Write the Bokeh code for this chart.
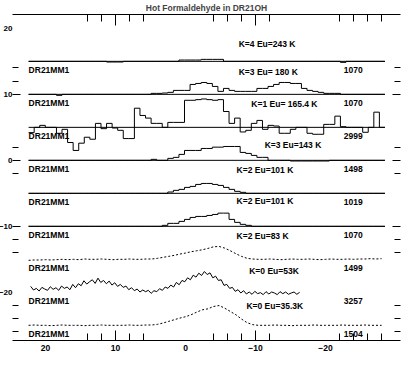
import numpy as np
from bokeh.plotting import figure
from bokeh.models import Range1d, FixedTicker, LinearAxis
from bokeh.embed import file_html
from bokeh.resources import INLINE
from bokeh.core.properties import value

# ---------------- data ----------------
TITLE = "Hot Formaldehyde in DR21OH"
SOURCE = "DR21MM1"
transitions = ["K=4 Eu=243 K", "K=3 Eu= 180 K", "K=1 Eu= 165.4 K", "K=3 Eu=143 K",
               "K=2 Eu=101 K", "K=2 Eu=101 K", "K=2 Eu=83 K", "K=0 Eu=53K", "K=0 Eu=35.3K"]
scan_numbers = ["1070", "1070", "2999", "1498", "1019", "1070", "1499", "3257", "1504"]
baselines = [15, 10, 5, 0, -5, -10, -15, -20, -25]

# narrow-band (histogram) spectra: 64 channels starting at v=22.4 km/s, width -0.795 km/s
narrow_v0 = 22.4
narrow_dv = -0.795
k4_243 = [0, 0, 0, 0, 0, 0, 0, 0,
          0, 0, 0, 0, 0, 0, -0.1, -0.1,
          -0.1, 0, 0, 0, 0, 0, 0, 0,
          0, 0, 0, 0.2, 0.2, 0.2, 0.2, 0.3,
          0.3, 0.3, 0.3, 0, 0, 0, 0, 0,
          0, 0, 0, 0, 0, 0, 0, 0,
          0, 0, 0, 0, 0, 0, 0, 0,
          -0.15, 0, 0, 0, 0, 0, 0, 0]
k3_180 = [0, 0, 0, 0, 0, -0.15, 0, 0,
          0, 0, 0, 0, 0, 0, 0, 0,
          0, 0, 0, 0, 0, 0, 0.15, 0.15,
          0.2, 0.3, 0.6, 0.6, 0.6, 1.5, 1.65, 1.8,
          1.65, 1.2, 0.45, 0.9, 0.6, 0.45, 0.45, 0.45,
          0.45, 0.9, 0.9, 1.2, 1.5, 1.8, 1.8, 1.65,
          1.65, 0.9, 0.6, 0.45, 0.3, 0.15, 0.15, 0.15,
          0, 0, 0, 0, 0, 0, 0, 0]
k1_165 = [-0.8, 0, 0.3, 0, 0, -0.9, -0.3, -2.3,
          -3.5, -2.4, -1.5, -1.8, 0.6, -0.2, 0.6, -0.1,
          -0.45, -1.7, -1.7, 2.9, 1.8, 1.4, 0.6, 0.6,
          0, 0.75, 0.75, 0.75, 4.1, 4.1, 4.2, 4.3,
          4.2, 4.1, 4.2, 2.4, 0.6, 1.4, -0.7, -0.45,
          0.6, 1.05, -0.3, 0.3, 0.2, -0.9, -0.9, -0.3,
          0, 0, -0.9, -1.05, -1.05, 0.45, 0.45, 1.7,
          0.1, 0, 0, 0, -0.75, 0, 2.3, 0]
k3_143 = [0, 0, 0, 0, 0, 0, 0, 0,
          0, 0, 0, 0, 0, 0, 0, 0,
          0, 0, 0, 0, 0, 0, 0.15, 0,
          0, 0.3, 0.45, 0.9, 1.5, 1.5, 1.5, 1.8,
          1.8, 2.0, 2.0, 2.1, 2.1, 2.1, 1.2, 1.05,
          0.75, 0.45, 0.45, 0, 0, 0, 0, -0.1,
          -0.1, -0.1, -0.1, -0.1, -0.1, -0.1, 0, 0,
          0, 0, 0, 0, 0, 0, 0, 0]
k2_101a = [0, 0, 0, 0, 0, 0, 0, 0,
           0, 0, 0, 0, 0, 0, 0, 0,
           0, 0, 0, 0, 0, 0, 0, 0,
           0, 0.2, 0.45, 0.6, 0.9, 1.05, 1.35, 1.5,
           1.5, 1.35, 1.2, 0.9, 0.6, 0.3, 0.15, 0,
           0, 0, 0, 0, 0, 0, 0, 0,
           0, 0, 0, 0, 0, 0, 0, 0,
           0, 0, 0, 0, 0, 0, 0, 0]
k2_101b = [0, 0, 0, 0, 0, 0, 0, 0,
           0, 0, 0, 0, 0, 0, 0, 0,
           0, 0, 0, 0, 0, 0, 0, 0,
           0.15, 0.45, 0.45, 0.75, 1.05, 1.35, 1.5, 1.5,
           1.65, 1.8, 2.0, 2.0, 1.05, 0.6, 0.3, 0.15,
           0, 0, 0, 0, 0, 0, 0, 0,
           0, 0, 0, 0, 0, 0, 0, 0,
           0, 0, 0, 0, 0, 0, 0, 0]

# wide-band spectra: 64 points from v=22.4 km/s, step -0.8 km/s
wide_v0 = 22.4
wide_dv = -0.8
k2_83 = [-0.15, -0.1, -0.1, -0.05, -0.1, -0.05, 0.0, -0.05,
         0.0, -0.05, 0.05, 0.0, 0.0, 0.05, 0.0, -0.05,
         0.0, 0.0, 0.05, 0.0, 0.0, 0.05, 0.05, 0.15,
         0.3, 0.45, 0.6, 0.8, 0.95, 1.15, 1.3, 1.45,
         1.65, 1.9, 1.95, 1.7, 1.3, 0.85, 0.45, 0.15,
         0.05, 0.0, 0.0, 0.05, 0.0, -0.05, 0.0, 0.05,
         0.0, 0.0, 0.05, 0.0, -0.05, 0.0, 0.05, 0.0,
         0.0, 0.05, 0.0, 0.05, 0.05, 0.1, 0.05, 0.1]
k0_35 = [0, 0.05, 0, 0, -0.05, 0, 0.05, 0,
         0, 0, -0.05, 0, 0, 0.05, 0, 0,
         0, 0, 0.05, 0, 0, 0.05, 0.05, 0.15,
         0.35, 0.6, 0.85, 1.1, 1.3, 1.6, 2.0, 2.35,
         2.5, 2.85, 3.0, 2.6, 2.1, 1.6, 0.95, 0.4,
         0.1, 0.0, 0, 0, 0.05, 0, 0, -0.05,
         0, 0, 0, 0.05, 0, 0, 0, 0,
         0.05, 0, 0, 0, 0.05, 0, 0, 0]

# noisy spectrum: 97 points from v=22.1 km/s, step -0.4 km/s
noisy_v0 = 22.1
noisy_dv = -0.4
k0_53 = [0.9, 0.35, 0.6, 0.2, 0.75, 0.5, 0.3, 0.85, 0.45, 0.7,
         0.3, 0.95, 0.6, 0.8, 0.4, 1.2, 0.7, 1.3, 1.0, 1.75,
         1.25, 1.6, 1.9, 1.35, 2.15, 1.5, 1.8, 1.3, 1.7, 1.1,
         1.45, 0.9, 1.2, 0.75, 0.95, 0.4, 0.7, 0.25, 0.5, 0.05,
         0.35, 0.1, 0.3, -0.15, 0.25, 0.1, 0.55, 0.3, 0.8, 0.6,
         1.1, 0.8, 1.5, 1.15, 1.8, 1.6, 2.2, 1.9, 2.6, 2.3,
         2.9, 2.55, 3.15, 2.7, 2.95, 2.2, 2.45, 1.8, 1.9, 1.05,
         1.2, 0.6, 0.75, 0.15, 0.4, -0.1, 0.25, -0.25, 0.05, -0.3,
         0.15, -0.2, -0.05, -0.35, 0.1, -0.25, 0.05, -0.1, -0.35, 0.1,
         -0.2, 0.05, -0.3, -0.1, 0.05, -0.3, 0.0]

narrow_spectra = [k4_243, k3_180, k1_165, k3_143, k2_101a, k2_101b]
wide_spectra = {6: k2_83, 8: k0_35}
noisy_spectra = {7: k0_53}

x_major = [20, 10, 0, -10, -20]

# ---------------- layout / style ----------------
FONT = value("Liberation Sans")
FS = "8.5px"
k_label_x = [-7.6, -7.6, -9.4, -11.3, -7.3, -7.3, -7.3, -9.1, -8.7]
k_label_dy = [2.6, 3.4, 3.6, 2.4, 3.6, 3.9, 3.6, 3.3, 3.0]
src_label_x = 22.4
num_label_x = -22.6
below_dy = -1.35

p = figure(width=412, height=371, x_range=Range1d(24.7, -30.7), y_range=Range1d(-27.3, 22.1),
           output_backend="svg", toolbar_location=None,
           x_axis_location=None, y_axis_location=None,
           min_border_left=20, min_border_right=4, min_border_top=24, min_border_bottom=21,
           margin=(-10, 0, 0, -8))
p.grid.visible = False
p.outline_line_color = None
p.background_fill_color = "white"
p.border_fill_color = "white"

p.title.text = TITLE
p.title.align = "center"
p.title.text_font = "Liberation Sans"
p.title.text_font_size = FS
p.title.text_font_style = "bold"
p.title.standoff = 3


def tick_axis(major, minor, maj_len, min_len, line):
    ax = LinearAxis(ticker=FixedTicker(ticks=major, minor_ticks=minor),
                    major_tick_in=maj_len, major_tick_out=0,
                    minor_tick_in=min_len, minor_tick_out=0,
                    major_label_text_font_size="0px", major_label_standoff=0,
                    axis_line_color="black" if line else None,
                    major_tick_line_color="black", minor_tick_line_color="black")
    ax.major_label_overrides = {t: "" for t in major}
    return ax


def label_axis(standoff, size):
    return LinearAxis(ticker=FixedTicker(ticks=x_major, minor_ticks=[]),
                      major_tick_in=0, major_tick_out=0, axis_line_color=None,
                      major_label_standoff=standoff,
                      major_label_text_font="Liberation Sans",
                      major_label_text_font_size=size,
                      major_label_text_font_style="bold",
                      major_label_text_color="black")


x_minor = [14, 12, 8, 6, -4, -6, -8, -12, -22, -24, -26, -28]
y_minor = [14, 12, 2, -2, -12, -14, -22, -24, -26]

p.add_layout(tick_axis([10, -10], x_minor, 10, 7, True), "below")
p.add_layout(label_axis(4, FS), "below")
p.add_layout(tick_axis([10, -10], x_minor, 11, 7, True), "above")
p.add_layout(tick_axis([10, 0, -10], y_minor, 8, 6, False), "left")
p.add_layout(label_axis(0, "8px"), "left")
p.add_layout(tick_axis([10, 0, -10], y_minor, 8, 6, False), "right")

# narrow histogram spectra with baselines
n_ch = len(k4_243)
edges = narrow_v0 + narrow_dv * np.arange(n_ch + 1)
for i, vals in enumerate(narrow_spectra):
    base = baselines[i]
    yv = base + np.asarray(vals, dtype=float)
    p.step(x=edges, y=np.append(yv, yv[-1]), mode="after", line_color="black", line_width=1)
    p.segment(x0=[edges[0]], x1=[edges[-1]], y0=[base], y1=[base], line_color="black", line_width=1)

for i, vals in wide_spectra.items():
    v = wide_v0 + wide_dv * np.arange(len(vals))
    p.line(v, baselines[i] + np.asarray(vals), line_color="black", line_width=1, line_dash="2 2")

for i, vals in noisy_spectra.items():
    v = noisy_v0 + noisy_dv * np.arange(len(vals))
    p.line(v, baselines[i] + np.asarray(vals), line_color="black", line_width=1)

txt = dict(text_font=FONT, text_font_size=FS, text_font_style="bold", text_color="black",
           text_baseline="middle", text_align="left")
b = np.asarray(baselines, dtype=float)
p.text(x=[src_label_x] * len(b), y=b + below_dy, text=[SOURCE] * len(b), **txt)
p.text(x=[num_label_x] * len(b), y=b + below_dy, text=scan_numbers, **txt)
p.text(x=k_label_x, y=b + np.asarray(k_label_dy), text=transitions, **txt)

open("out.html", "w").write(file_html(p, INLINE))
